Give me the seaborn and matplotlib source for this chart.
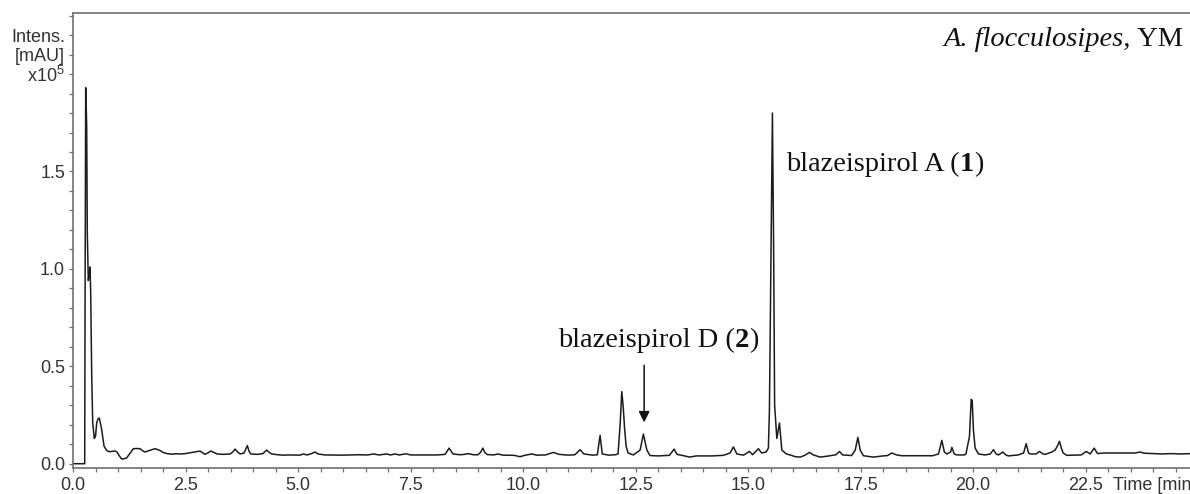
import matplotlib
matplotlib.use("Agg")
import matplotlib.pyplot as plt
from matplotlib.ticker import FixedLocator, FixedFormatter, MultipleLocator
import pandas as pd
import seaborn as sns

# UV chromatogram trace: retention time (min) and intensity (x10^5 mAU)
time_min = [
    0.00, 0.26, 0.268, 0.282, 0.292, 0.304, 0.318, 0.340, 0.360, 0.378,
    0.393, 0.416, 0.438, 0.473, 0.500, 0.527, 0.555, 0.584, 0.638, 0.689,
    0.749, 0.80, 0.867, 0.93, 0.978, 1.03, 1.082, 1.14, 1.193, 1.27,
    1.34, 1.42, 1.489, 1.55, 1.60, 1.70, 1.822, 1.88, 1.933, 2.00,
    2.089, 2.20, 2.30, 2.378, 2.50, 2.60, 2.70, 2.822, 2.88, 2.933,
    3.00, 3.06, 3.13, 3.20, 3.35, 3.489, 3.55, 3.60, 3.66, 3.711,
    3.80, 3.873, 3.91, 3.949, 4.10, 4.22, 4.304, 4.36, 4.416, 4.55,
    4.667, 4.80, 5.044, 5.118, 5.20, 5.30, 5.378, 5.444, 5.60, 6.00,
    6.34, 6.55, 6.673, 6.80, 6.971, 7.05, 7.156, 7.25, 7.40, 7.50,
    8.10, 8.267, 8.356, 8.444, 8.60, 8.70, 8.778, 8.90, 9.00, 9.06,
    9.104, 9.15, 9.20, 9.35, 9.444, 9.55, 9.80, 9.933, 10.05, 10.20,
    10.30, 10.50, 10.673, 10.80, 11.00, 11.15, 11.267, 11.35, 11.55, 11.65,
    11.711, 11.76, 11.90, 12.05, 12.11, 12.156, 12.193, 12.222, 12.256, 12.289,
    12.333, 12.45, 12.60, 12.673, 12.75, 12.82, 13.00, 13.25, 13.356, 13.42,
    13.55, 13.70, 13.85, 14.20, 14.45, 14.60, 14.673, 14.75, 14.90, 15.029,
    15.10, 15.229, 15.30, 15.40, 15.450, 15.473, 15.511, 15.540, 15.567, 15.589,
    15.638, 15.696, 15.749, 15.85, 15.933, 16.05, 16.156, 16.25, 16.362, 16.45,
    16.60, 16.80, 16.95, 17.029, 17.10, 17.30, 17.38, 17.438, 17.49, 17.562,
    17.784, 18.00, 18.10, 18.193, 18.30, 18.416, 19.10, 19.23, 19.304, 19.36,
    19.416, 19.50, 19.527, 19.58, 19.638, 19.80, 19.84, 19.918, 19.956, 19.978,
    20.007, 20.044, 20.118, 20.267, 20.38, 20.451, 20.51, 20.562, 20.66, 20.72,
    20.778, 21.00, 21.12, 21.178, 21.23, 21.267, 21.40, 21.473, 21.55, 21.60,
    21.749, 21.82, 21.87, 21.918, 21.96, 22.00, 22.082, 22.40, 22.511, 22.60,
    22.689, 22.762, 22.90, 23.60, 23.711, 23.80, 24.00, 24.20, 24.40, 24.60,
    24.80, 25.05,
]
intensity = [
    0.000, 0.000, 0.80, 1.93, 1.85, 1.73, 1.18, 0.94, 0.97, 1.01,
    0.88, 0.45, 0.21, 0.13, 0.14, 0.21, 0.23, 0.235, 0.175, 0.09,
    0.068, 0.062, 0.063, 0.066, 0.060, 0.040, 0.024, 0.026, 0.030, 0.055,
    0.077, 0.078, 0.077, 0.066, 0.060, 0.068, 0.077, 0.072, 0.068, 0.058,
    0.052, 0.049, 0.051, 0.050, 0.052, 0.056, 0.060, 0.065, 0.056, 0.048,
    0.056, 0.065, 0.058, 0.050, 0.048, 0.050, 0.060, 0.075, 0.060, 0.050,
    0.055, 0.093, 0.065, 0.050, 0.048, 0.052, 0.070, 0.058, 0.050, 0.046,
    0.044, 0.045, 0.044, 0.050, 0.045, 0.052, 0.060, 0.050, 0.045, 0.044,
    0.046, 0.045, 0.050, 0.045, 0.050, 0.045, 0.050, 0.045, 0.051, 0.045,
    0.045, 0.048, 0.080, 0.050, 0.046, 0.048, 0.052, 0.046, 0.046, 0.060,
    0.080, 0.058, 0.047, 0.045, 0.050, 0.044, 0.043, 0.036, 0.044, 0.050,
    0.044, 0.045, 0.058, 0.048, 0.044, 0.046, 0.072, 0.050, 0.044, 0.046,
    0.145, 0.050, 0.044, 0.046, 0.050, 0.200, 0.370, 0.300, 0.180, 0.090,
    0.055, 0.045, 0.070, 0.152, 0.070, 0.042, 0.040, 0.043, 0.075, 0.048,
    0.042, 0.034, 0.040, 0.040, 0.043, 0.055, 0.086, 0.050, 0.044, 0.063,
    0.046, 0.077, 0.055, 0.060, 0.080, 0.270, 1.12, 1.80, 1.10, 0.30,
    0.13, 0.209, 0.070, 0.050, 0.045, 0.036, 0.034, 0.042, 0.058, 0.045,
    0.034, 0.040, 0.046, 0.063, 0.045, 0.042, 0.070, 0.135, 0.070, 0.041,
    0.034, 0.040, 0.042, 0.055, 0.045, 0.041, 0.041, 0.050, 0.120, 0.060,
    0.050, 0.060, 0.084, 0.050, 0.045, 0.045, 0.050, 0.140, 0.330, 0.325,
    0.170, 0.080, 0.050, 0.045, 0.050, 0.072, 0.050, 0.045, 0.060, 0.046,
    0.040, 0.045, 0.055, 0.103, 0.055, 0.050, 0.050, 0.063, 0.050, 0.048,
    0.060, 0.070, 0.090, 0.115, 0.080, 0.055, 0.043, 0.045, 0.063, 0.050,
    0.080, 0.052, 0.055, 0.055, 0.060, 0.054, 0.052, 0.050, 0.052, 0.050,
    0.052, 0.052,
]

x_major = [0.0, 2.5, 5.0, 7.5, 10.0, 12.5, 15.0, 17.5, 20.0, 22.5]
x_labels = ["0.0", "2.5", "5.0", "7.5", "10.0", "12.5", "15.0", "17.5", "20.0", "22.5"]
y_major = [0.0, 0.5, 1.0, 1.5, 2.0, 2.1, 2.2]
y_labels = ["0.0", "0.5", "1.0", "1.5", r"x10$^{\mathrm{5}}$", "[mAU]", "Intens."]
x_title = "Time [min]"

peak_a = ("blazeispirol A (", "1", ")")
peak_a_pos = (15.85, 1.50)
peak_d = ("blazeispirol D (", "2", ")")
peak_d_pos = (10.78, 0.60)
arrow_x = 12.69
arrow_from, arrow_to = 0.505, 0.212
sample = ("A. flocculosipes,", " YM")

sns.set_style("ticks")
plt.rcParams["font.family"] = ["Liberation Sans", "DejaVu Sans"]
plt.rcParams["mathtext.fontset"] = "custom"
plt.rcParams["mathtext.rm"] = "Liberation Sans"
plt.rcParams["mathtext.it"] = "Liberation Sans:italic"
plt.rcParams["mathtext.bf"] = "Liberation Sans:bold"

W, H = 1190, 494
fig = plt.figure(figsize=(W / 100, H / 100), dpi=100)
ax_left, ax_right, ax_top, ax_bottom = 73, 1200, 13.3, 468
ax = fig.add_axes([ax_left / W, (H - ax_bottom) / H,
                   (ax_right - ax_left) / W, (ax_bottom - ax_top) / H])

df = pd.DataFrame({"time": time_min, "intensity": intensity})
sns.lineplot(data=df, x="time", y="intensity", ax=ax, sort=False,
             estimator=None, color="#1c1c1c", linewidth=1.1)

ax.set_xlim(0.0, 25.04)
ax.set_ylim(-0.022, 2.312)
ax.set_xlabel("")
ax.set_ylabel("")

ax.xaxis.set_major_locator(FixedLocator(x_major))
ax.xaxis.set_major_formatter(FixedFormatter(x_labels))
ax.xaxis.set_minor_locator(MultipleLocator(0.5))
ax.yaxis.set_major_locator(FixedLocator(y_major))
ax.yaxis.set_major_formatter(FixedFormatter(y_labels))
ax.yaxis.set_minor_locator(MultipleLocator(0.1))

frame = "#707070"
for side in ("left", "bottom", "top", "right"):
    ax.spines[side].set_visible(True)
    ax.spines[side].set_color(frame)
    ax.spines[side].set_linewidth(1.2)
ax.tick_params(axis="both", which="both", direction="out", length=3.2,
               width=0.9, color=frame, labelcolor="#333333", labelsize=13)
ax.tick_params(axis="y", which="both", pad=2.5)
ax.tick_params(axis="x", which="both", pad=3.5)

# axis title sits on the tick-label row after the last label
ax.annotate(x_title, xy=(23.11, 0), xycoords=("data", "axes fraction"),
            xytext=(0, -6.7), textcoords="offset points", ha="left", va="top",
            fontsize=13, color="#333333", annotation_clip=False)

serif = "Liberation Serif"
fs = 20.5


def compound_label(parts, pos):
    head = ax.text(pos[0], pos[1], parts[0], family=serif, fontsize=fs,
                   va="baseline", ha="left", color="#111111")
    num = ax.annotate(parts[1], xy=(1, 0), xycoords=head, family=serif,
                      fontsize=fs, fontweight="bold", va="bottom", ha="left",
                      color="#111111")
    ax.annotate(parts[2], xy=(1, 0), xycoords=num, family=serif, fontsize=fs,
                va="bottom", ha="left", color="#111111")


compound_label(peak_a, peak_a_pos)
compound_label(peak_d, peak_d_pos)

ax.annotate("", xy=(arrow_x, arrow_to), xytext=(arrow_x, arrow_from),
            arrowprops=dict(arrowstyle="-|>,head_length=0.5,head_width=0.25",
                            mutation_scale=13, color="#111111", lw=1.1,
                            shrinkA=0, shrinkB=0))

ym = fig.text(1183 / W, 1 - 46 / H, sample[1], family=serif, fontsize=fs,
              ha="right", va="baseline", color="#111111")
fig.text(0, 0, "")
ax.annotate(sample[0], xy=(0, 0), xycoords=ym, family=serif, fontsize=fs,
            style="italic", ha="right", va="bottom", color="#111111")

fig.savefig("out.png", dpi=100)
